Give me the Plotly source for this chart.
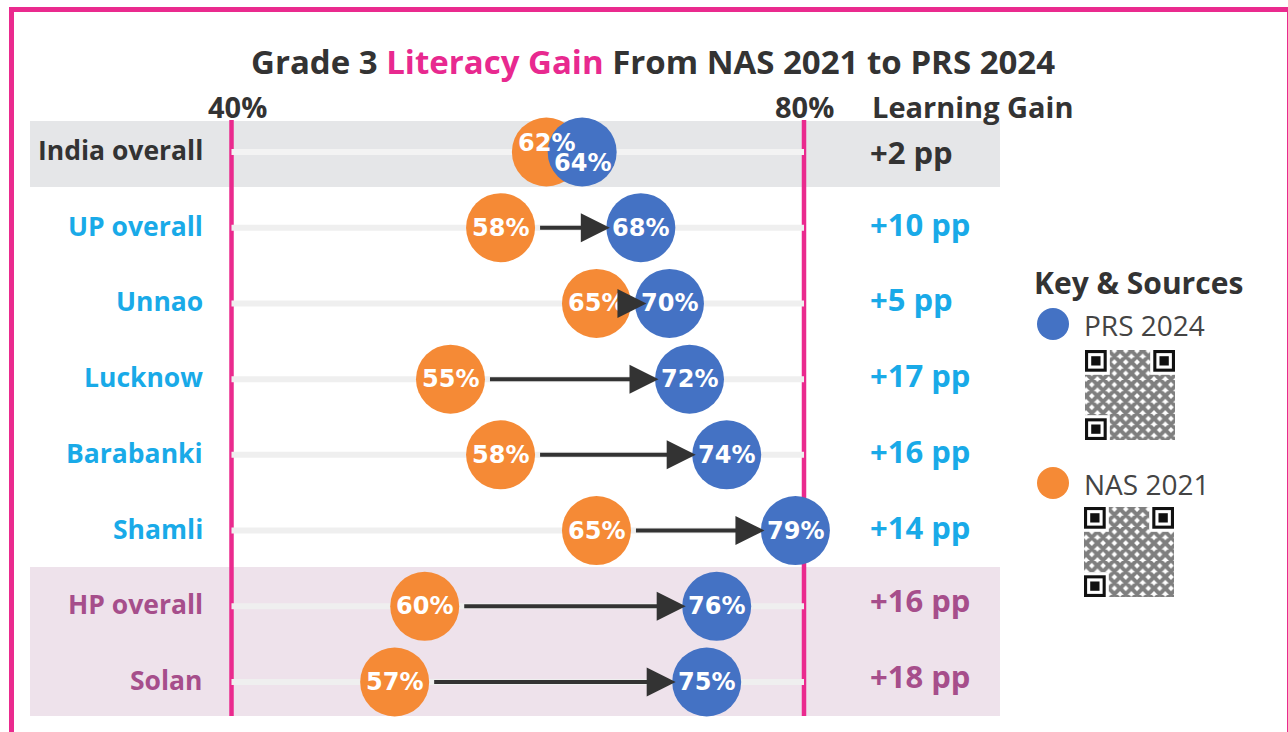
import plotly.graph_objects as go

# ---------------- data ----------------
regions = ["India overall", "UP overall", "Unnao", "Lucknow", "Barabanki", "Shamli", "HP overall", "Solan"]
groups = ["india", "up", "up", "up", "up", "up", "hp", "hp"]
nas_2021 = [62, 58, 65, 55, 58, 65, 60, 57]          # labelled values
prs_2024 = [64, 68, 70, 72, 74, 79, 76, 75]
gain_pp = [2, 10, 5, 17, 16, 14, 16, 18]
# positions of the circles as drawn on the 40%-80% scale of the picture
nas_pos = [62.0, 58.8, 65.5, 55.3, 58.8, 65.5, 53.5, 51.4]
prs_pos = [64.5, 68.6, 70.6, 72.0, 74.6, 79.4, 73.9, 73.2]
tick_vals = [40, 80]
tick_text = ["40%", "80%"]

W, H = 1288, 732
PINK = "#EA2A8E"
ORANGE = "#F58A36"
BLUE = "#4472C4"
DARK = "#333333"
GROUP_COL = {"india": "#333333", "up": "#19AAE8", "hp": "#A64E8B"}
TITLE_FONT = "Open Sans"
CIRCLE_FONT = "DejaVu Sans"
PX_PER_UNIT = 14.3125

rows = list(range(len(regions)))


def px(x):
    return x / W


def py(y):
    return 1 - y / H


fig = go.Figure()

# circles
fig.add_trace(go.Scatter(x=nas_pos, y=rows, mode="markers", name="NAS 2021",
                         marker=dict(size=69, color=ORANGE, line=dict(width=0)),
                         hoverinfo="skip", showlegend=False))
fig.add_trace(go.Scatter(x=prs_pos, y=rows, mode="markers", name="PRS 2024",
                         marker=dict(size=69, color=BLUE, line=dict(width=0)),
                         hoverinfo="skip", showlegend=False))

# QR-code-like texture (decorative) on a pixel overlay axis
for (qx, qy) in [(1085, 350), (1084, 507)]:
    fig.add_trace(go.Scatter(x=[qx, qx + 90, qx + 90, qx, qx], y=[qy, qy, qy + 90, qy + 90, qy],
                             mode="lines", fill="toself", line=dict(width=0),
                             fillcolor="white",
                             fillpattern=dict(shape="x", fgcolor="#000000", bgcolor="white",
                                              size=8, solidity=0.75),
                             xaxis="x2", yaxis="y2", hoverinfo="skip", showlegend=False))

shapes = []
# border
shapes.append(dict(type="rect", xref="paper", yref="paper", x0=px(11.5), x1=px(1289.5),
                   y0=py(745), y1=py(9.5), line=dict(color=PINK, width=5), layer="below"))
# bands
shapes.append(dict(type="rect", xref="paper", yref="paper", x0=px(30), x1=px(1000),
                   y0=py(187), y1=py(121), fillcolor="#E5E6E8", line=dict(width=0), layer="below"))
shapes.append(dict(type="rect", xref="paper", yref="paper", x0=px(30), x1=px(1000),
                   y0=py(716), y1=py(567), fillcolor="#EEE2EB", line=dict(width=0), layer="below"))
# tracks
for i in rows:
    shapes.append(dict(type="line", xref="x", yref="y", x0=tick_vals[0], x1=tick_vals[1], y0=i, y1=i,
                       line=dict(color="#EFEFEF" if groups[i] != "india" else "#F3F3F3", width=6),
                       layer="below"))
# pink reference lines
for v in tick_vals:
    shapes.append(dict(type="line", xref="x", yref="paper", x0=v, x1=v, y0=py(716), y1=py(120),
                       line=dict(color=PINK, width=4.5), layer="below"))
# legend dots
shapes.append(dict(type="circle", xref="paper", yref="paper", x0=px(1037), x1=px(1069),
                   y0=py(340), y1=py(308), fillcolor=BLUE, line=dict(width=0)))
shapes.append(dict(type="circle", xref="paper", yref="paper", x0=px(1037), x1=px(1069),
                   y0=py(499), y1=py(467), fillcolor=ORANGE, line=dict(width=0)))
# QR finder patterns
for (qx, qy) in [(1085, 350), (1084, 507)]:
    m = 90 / 29.0
    for (cx, cy) in [(qx, qy), (qx + 90 - 7 * m, qy), (qx, qy + 90 - 7 * m)]:
        shapes.append(dict(type="rect", xref="paper", yref="paper",
                           x0=px(cx - m), x1=px(cx + 8 * m), y0=py(cy + 8 * m), y1=py(cy - m),
                           fillcolor="white", line=dict(width=0)))
        for k, col in [(0, "#111111"), (1, "white"), (2, "#111111")]:
            shapes.append(dict(type="rect", xref="paper", yref="paper",
                               x0=px(cx + k * m), x1=px(cx + (7 - k) * m),
                               y0=py(cy + (7 - k) * m), y1=py(cy + k * m),
                               fillcolor=col, line=dict(width=0)))

ann = []
# title
ann.append(dict(xref="paper", yref="paper", x=px(653), y=py(62), xanchor="center", yanchor="middle",
                text="Grade 3 <span style='color:#E8298F'>Literacy Gain</span> From NAS 2021 to PRS 2024",
                showarrow=False, font=dict(family=TITLE_FONT, size=33, color=DARK, weight=700)))
# axis tick labels at top
for v, t, xs in zip(tick_vals, tick_text, [6, 0]):
    ann.append(dict(xref="x", yref="paper", x=v, y=py(106), xanchor="center", yanchor="middle",
                    xshift=xs, text=t, showarrow=False,
                    font=dict(family=TITLE_FONT, size=29, color=DARK, weight=700)))
ann.append(dict(xref="paper", yref="paper", x=px(973), y=py(106), xanchor="center", yanchor="middle",
                text="Learning Gain", showarrow=False,
                font=dict(family=TITLE_FONT, size=29, color=DARK, weight=700)))
# row labels and gains
gain_shift = {"india": 0, "up": 4, "hp": 6}
for i in rows:
    col = GROUP_COL[groups[i]]
    ann.append(dict(xref="paper", yref="y", x=px(205), y=i, xanchor="right", yanchor="middle",
                    yshift=2, text=regions[i], showarrow=False,
                    font=dict(family=TITLE_FONT, size=26.5, color=col, weight=700)))
    ann.append(dict(xref="paper", yref="y", x=px(868), y=i, xanchor="left", yanchor="middle",
                    yshift=gain_shift[groups[i]], text=f"+{gain_pp[i]} pp", showarrow=False,
                    font=dict(family=TITLE_FONT, size=31, color=col, weight=700)))
# circle labels
for i in rows:
    ys_n, ys_p = (9, -11) if gain_pp[i] < 3 else (0, 0)
    ann.append(dict(xref="x", yref="y", x=nas_pos[i], y=i, text=f"{nas_2021[i]}%", showarrow=False,
                    yshift=ys_n, font=dict(family=CIRCLE_FONT, size=24, color="white", weight=700)))
    ann.append(dict(xref="x", yref="y", x=prs_pos[i], y=i, text=f"{prs_2024[i]}%", showarrow=False,
                    yshift=ys_p, font=dict(family=CIRCLE_FONT, size=24, color="white", weight=700)))
# arrows
for i in rows:
    if gain_pp[i] < 3:
        continue
    dist = (prs_pos[i] - nas_pos[i]) * PX_PER_UNIT
    short = dist < 90
    ann.append(dict(xref="x", yref="y", x=prs_pos[i], y=i, axref="x", ayref="y", ax=nas_pos[i], ay=i,
                    text="", showarrow=True, arrowhead=2, arrowsize=1.45, arrowwidth=4,
                    arrowcolor="#333333",
                    standoff=(23 if short else 31), startstandoff=(20 if short else 38)))
# legend
ann.append(dict(xref="paper", yref="paper", x=px(1032), y=py(282), xanchor="left", yanchor="middle",
                text="Key & Sources", showarrow=False,
                font=dict(family=TITLE_FONT, size=30, color=DARK, weight=700)))
ann.append(dict(xref="paper", yref="paper", x=px(1082), y=py(325), xanchor="left", yanchor="middle",
                text="PRS 2024", showarrow=False,
                font=dict(family=TITLE_FONT, size=28, color="#444444")))
ann.append(dict(xref="paper", yref="paper", x=px(1082), y=py(484), xanchor="left", yanchor="middle",
                text="NAS 2021", showarrow=False,
                font=dict(family=TITLE_FONT, size=28, color="#444444")))

x_lo = 40 - 231.5 / PX_PER_UNIT
x_hi = x_lo + W / PX_PER_UNIT
row_step = 75.714
y_top = -152 / row_step
y_bot = (H - 152) / row_step

fig.update_layout(
    width=W, height=H, autosize=False,
    margin=dict(l=0, r=0, t=0, b=0, pad=0),
    paper_bgcolor="white", plot_bgcolor="white",
    shapes=shapes, annotations=ann, showlegend=False,
    xaxis=dict(range=[x_lo, x_hi], visible=False, fixedrange=True),
    yaxis=dict(range=[y_bot, y_top], visible=False, fixedrange=True),
    xaxis2=dict(range=[0, W], visible=False, overlaying="x", anchor="y2", fixedrange=True),
    yaxis2=dict(range=[H, 0], visible=False, overlaying="y", anchor="x2", fixedrange=True),
)

fig.write_html("out.html", config={"displayModeBar": False},
               post_script="document.body.style.margin='0';document.body.style.overflow='hidden';")
